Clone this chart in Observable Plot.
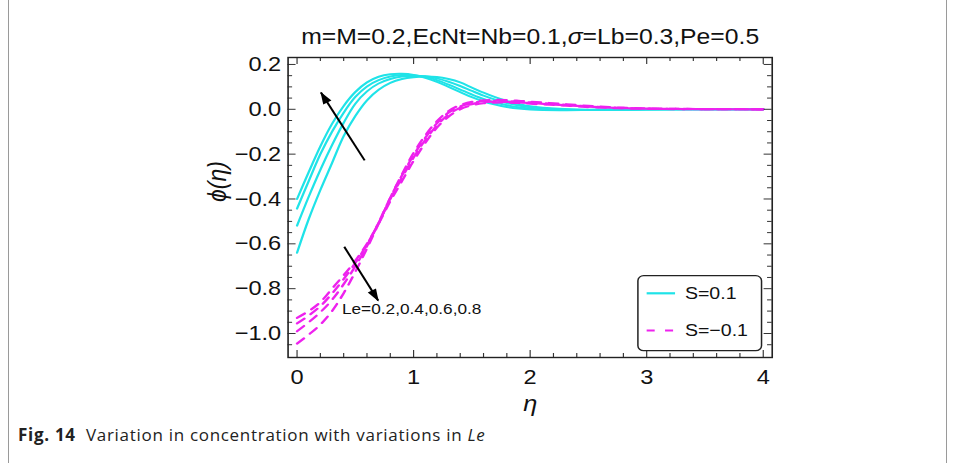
<!DOCTYPE html>
<html><head><meta charset="utf-8">
<script src="https://cdn.jsdelivr.net/npm/d3@7"></script>
<script src="https://cdn.jsdelivr.net/npm/@observablehq/plot@0.6"></script>
<style>
html,body{margin:0;padding:0;background:#fff;width:955px;height:463px;overflow:hidden;position:relative;}
#frameBox{position:absolute;left:8px;top:-20px;width:939px;height:493px;border:1px solid #9a9a9a;border-radius:9px;box-sizing:border-box;}
#stretch{position:absolute;left:0;top:0;width:830px;height:425px;transform:scaleX(1.15);transform-origin:0 0;}
#legend{position:absolute;left:554px;top:275px;overflow:visible;}
#caption{position:absolute;left:18px;top:424px;line-height:22px;font-family:"Open Sans",sans-serif;font-size:17px;letter-spacing:0.7px;color:#222;white-space:nowrap;}
#caption b{font-weight:700;}
</style></head><body>
<div id="frameBox"></div>
<div id="stretch"><div id="chart"></div><svg id="legend" width="109" height="77"></svg></div>
<div id="caption"><b>Fig. 14</b>&nbsp; Variation in concentration with variations in <i>Le</i></div>
<script>
// ---- data ----
const eta = [0,0.1,0.2,0.3,0.4,0.5,0.6,0.7,0.8,0.9,1.0,1.1,1.2,1.3,1.4,1.5,1.6,1.7,1.8,1.9,2.0,2.25,2.5,2.75,3.0,3.5,4.0];
const leValues = [0.2, 0.4, 0.6, 0.8];
// S = 0.1 (solid cyan)
const phiPosLe02 = [-0.64,-0.49,-0.36,-0.24,-0.12,-0.03,0.04,0.087,0.118,0.135,0.143,0.146,0.144,0.135,0.12,0.097,0.074,0.054,0.037,0.024,0.014,0.002,-0.002,-0.002,-0.001,0,0];
const phiPosLe04 = [-0.519,-0.39,-0.27,-0.16,-0.06,0.025,0.08,0.115,0.135,0.146,0.149,0.147,0.138,0.123,0.104,0.082,0.061,0.043,0.028,0.017,0.009,-0.001,-0.003,-0.002,-0.001,0,0];
const phiPosLe06 = [-0.443,-0.32,-0.2,-0.1,-0.015,0.055,0.102,0.13,0.146,0.153,0.152,0.145,0.13,0.11,0.088,0.066,0.046,0.03,0.018,0.009,0.003,-0.003,-0.003,-0.001,0,0,0];
const phiPosLe08 = [-0.40,-0.28,-0.165,-0.065,0.015,0.077,0.12,0.145,0.156,0.158,0.153,0.14,0.122,0.1,0.077,0.054,0.035,0.021,0.01,0.003,-0.001,-0.004,-0.003,-0.001,0,0,0];
// S = -0.1 (dashed magenta)
const phiNegLe02 = [-0.93,-0.90,-0.86,-0.80,-0.74,-0.675,-0.60,-0.51,-0.41,-0.32,-0.23,-0.15,-0.082,-0.033,0.0,0.018,0.027,0.03,0.03,0.028,0.025,0.018,0.01,0.005,0.002,0.0005,0];
const phiNegLe04 = [-0.955,-0.92,-0.878,-0.822,-0.757,-0.685,-0.603,-0.507,-0.40,-0.305,-0.215,-0.137,-0.072,-0.023,0.007,0.023,0.032,0.034,0.033,0.031,0.028,0.02,0.012,0.006,0.003,0.0005,0];
const phiNegLe06 = [-0.99,-0.95,-0.905,-0.85,-0.78,-0.70,-0.61,-0.505,-0.395,-0.295,-0.205,-0.127,-0.063,-0.015,0.013,0.028,0.036,0.038,0.037,0.034,0.031,0.022,0.013,0.007,0.003,0.001,0];
const phiNegLe08 = [-1.045,-1.005,-0.96,-0.90,-0.82,-0.725,-0.62,-0.51,-0.395,-0.29,-0.195,-0.117,-0.053,-0.008,0.019,0.033,0.04,0.042,0.041,0.038,0.034,0.025,0.015,0.008,0.004,0.001,0];

const seriesLabels = ["S=0.1", "S=\u22120.1"];
const seriesColors = ["#1fe3e8", "#ee22ee"];
const xTickValues = [0, 1, 2, 3, 4];
const yTickValues = [-1.0, -0.8, -0.6, -0.4, -0.2, 0.0, 0.2];
const titleText = "m=M=0.2,EcNt=Nb=0.1,\u03c3=Lb=0.3,Pe=0.5";
const xLabelText = "\u03b7";
const yLabelText = "\u03d5(\u03b7)";
const noteText = ["Le=0.2,0.4,0.6,0.8"];
const noteX = [0.385];
const noteY = [-0.893];
const arrowX1 = [0.58, 0.405];
const arrowY1 = [-0.228, -0.613];
const arrowX2 = [0.205, 0.696];
const arrowY2 = [0.075, -0.853];

// ---- build tidy rows ----
const rowsFor = (arrays) => arrays.flatMap((vals, k) => vals.map((v, i) => ({eta: eta[i], phi: v, le: leValues[k]})));
const posRows = rowsFor([phiPosLe02, phiPosLe04, phiPosLe06, phiPosLe08]);
const negRows = rowsFor([phiNegLe02, phiNegLe04, phiNegLe06, phiNegLe08]);
const isMult = (v, step) => Math.abs(Math.round(v / step) * step - v) < 1e-6;
const xMinor = d3.range(0.2, 3.9, 0.2).filter(v => !isMult(v, 1));
const yMinor = d3.range(-1.05, 0.23, 0.05).filter(v => !isMult(v, 0.2));
const arrowIdx = [0, 1];

const W = 830, H = 425, mT = 57, mB = 68, mL = 250, mR = 159;
const fw = W - mL - mR, fh = H - mT - mB;
const major = 7, minor = 4, tickColor = "#333";

const chart = Plot.plot({
  width: W, height: H, marginTop: mT, marginBottom: mB, marginLeft: mL, marginRight: mR,
  style: {fontFamily: "'Liberation Sans', Arial, sans-serif", fontSize: "20.5px", color: "#111", background: "transparent", overflow: "visible"},
  x: {domain: [-0.077, 4.077], ticks: xTickValues, tickSize: 0, tickPadding: 12, tickFormat: d => String(d), label: null},
  y: {domain: [-1.107, 0.231], ticks: yTickValues, tickSize: 0, tickPadding: 6, tickFormat: d => d.toFixed(1).replace("-", "\u2212"), label: null},
  marks: [
    Plot.line(posRows, {x: "eta", y: "phi", z: "le", stroke: seriesColors[0], strokeWidth: 2, curve: "catmull-rom"}),
    Plot.line(negRows, {x: "eta", y: "phi", z: "le", stroke: seriesColors[1], strokeWidth: 2.2, strokeDasharray: "8,7", curve: "catmull-rom"}),
    Plot.tickX(xTickValues, {x: d => d, stroke: tickColor, insetTop: fh - major}),
    Plot.tickX(xTickValues, {x: d => d, stroke: tickColor, insetBottom: fh - major}),
    Plot.tickX(xMinor, {x: d => d, stroke: tickColor, insetTop: fh - minor}),
    Plot.tickX(xMinor, {x: d => d, stroke: tickColor, insetBottom: fh - minor}),
    Plot.tickY(yTickValues, {y: d => d, stroke: tickColor, insetRight: fw - major}),
    Plot.tickY(yTickValues, {y: d => d, stroke: tickColor, insetLeft: fw - major}),
    Plot.tickY(yMinor, {y: d => d, stroke: tickColor, insetRight: fw - minor}),
    Plot.tickY(yMinor, {y: d => d, stroke: tickColor, insetLeft: fw - minor}),
    Plot.frame({stroke: "#222", strokeWidth: 1.4}),
    Plot.link(arrowIdx, {x1: i => arrowX1[i], y1: i => arrowY1[i], x2: i => arrowX2[i], y2: i => arrowY2[i], stroke: "black", strokeWidth: 1.8, markerEnd: "arrow"}),
    Plot.text(noteText, {x: (d, i) => noteX[i], y: (d, i) => noteY[i], text: d => d, textAnchor: "start", fontSize: 15, fill: "#111"}),
    Plot.text([titleText], {text: d => d, frameAnchor: "top", dy: -29, fontSize: 21.5, fill: "#111"}),
    Plot.text([yLabelText], {text: d => d, frameAnchor: "left", dx: -61.7, dy: -5.5, rotate: -90, fontSize: 23, fontStyle: "italic", fill: "#111"}),
    Plot.text([xLabelText], {text: d => d, frameAnchor: "bottom", dy: 53, fontSize: 22, fontStyle: "italic", fill: "#111"})
  ]
});
document.getElementById("chart").appendChild(chart);

// filled arrow heads
chart.querySelectorAll("marker").forEach(m => {
  m.setAttribute("overflow", "visible");
  m.setAttribute("fill", "black");
  m.setAttribute("stroke", "none");
  const p = m.querySelector("path");
  if (p) p.setAttribute("d", "M-9.5,-3.4L0.8,0L-9.5,3.4Z");
});
// italic sigma in the title
chart.querySelectorAll("text").forEach(t => {
  if (t.textContent === titleText) {
    const parts = titleText.split("\u03c3");
    t.textContent = "";
    const ns = "http://www.w3.org/2000/svg";
    parts.forEach((part, i) => {
      if (i > 0) { const s = document.createElementNS(ns, "tspan"); s.setAttribute("font-style", "italic"); s.textContent = "\u03c3"; t.appendChild(s); }
      const s = document.createElementNS(ns, "tspan"); s.textContent = part; t.appendChild(s);
    });
  }
});

// legend
const lg = d3.select("#legend");
lg.append("rect").attr("x", 0.7).attr("y", 0.7).attr("width", 107.5).attr("height", 75).attr("rx", 5)
  .attr("fill", "white").attr("stroke", "#222").attr("stroke-width", 1.3);
const rowY = [18.3, 55.5];
const dashes = [null, "7,9"];
seriesLabels.forEach((lab, i) => {
  lg.append("line").attr("x1", 8.3).attr("x2", 33).attr("y1", rowY[i]).attr("y2", rowY[i])
    .attr("stroke", seriesColors[i]).attr("stroke-width", 2.2).attr("stroke-dasharray", dashes[i]);
  lg.append("text").attr("x", 41.6).attr("y", rowY[i]).attr("dy", "0.35em")
    .attr("font-family", "'Liberation Sans', Arial, sans-serif").attr("font-size", 17).attr("fill", "#111").text(lab);
});
</script>
</body></html>
